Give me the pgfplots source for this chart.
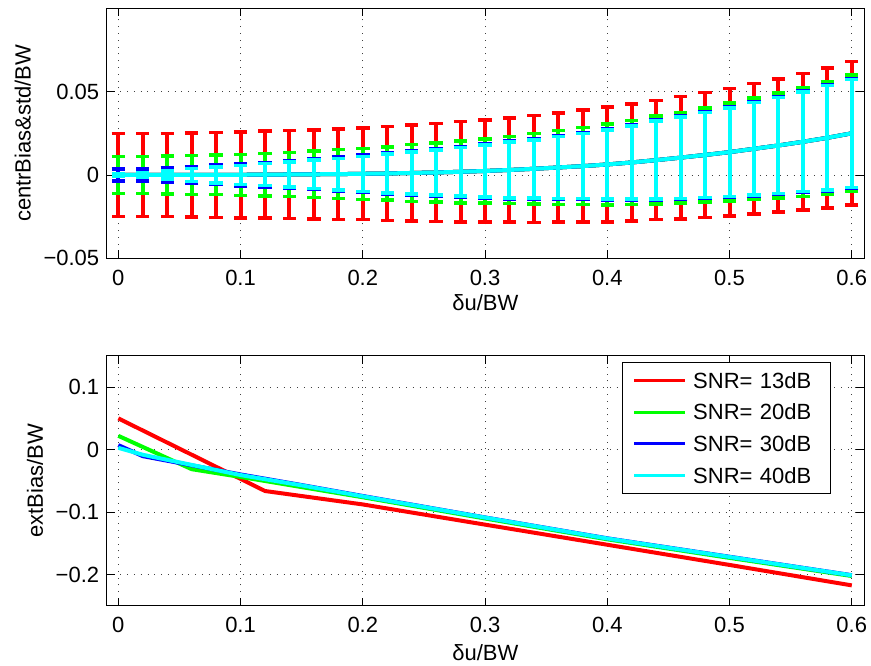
\documentclass[border=0pt]{standalone}
\usepackage{pgfplots}
\pgfplotsset{compat=1.18}
\usepackage{pgfplotstable}
\usepackage{fontspec}
\setmainfont{Liberation Sans}
\definecolor{mred}{rgb}{1,0,0}
\definecolor{mgreen}{rgb}{0,1,0}
\definecolor{mblue}{rgb}{0,0,1}
\definecolor{mcyan}{rgb}{0,1,1}

\pgfplotstableread{
x     c       r       g       b       cy
0.00  0.0000  0.0250  0.0112  0.0036  0.0010
0.02  0.0000  0.0250  0.0112  0.0037  0.0015
0.04  0.0000  0.0250  0.0113  0.0042  0.0025
0.06  0.0000  0.0253  0.0116  0.0050  0.0038
0.08  0.0001  0.0255  0.0119  0.0058  0.0048
0.10  0.0001  0.0258  0.0123  0.0066  0.0057
0.12  0.0002  0.0261  0.0128  0.0073  0.0066
0.14  0.0003  0.0265  0.0133  0.0080  0.0075
0.16  0.0004  0.0267  0.0140  0.0092  0.0085
0.18  0.0005  0.0272  0.0147  0.0102  0.0095
0.20  0.0007  0.0275  0.0153  0.0112  0.0105
0.22  0.0009  0.0282  0.0160  0.0122  0.0116
0.24  0.0012  0.0288  0.0170  0.0132  0.0126
0.26  0.0015  0.0295  0.0178  0.0141  0.0135
0.28  0.0019  0.0301  0.0186  0.0151  0.0145
0.30  0.0024  0.0306  0.0192  0.0163  0.0157
0.32  0.0030  0.0312  0.0202  0.0173  0.0167
0.34  0.0037  0.0321  0.0211  0.0180  0.0174
0.36  0.0045  0.0328  0.0223  0.0192  0.0186
0.38  0.0053  0.0336  0.0231  0.0201  0.0195
0.40  0.0063  0.0345  0.0243  0.0213  0.0207
0.42  0.0075  0.0352  0.0253  0.0226  0.0220
0.44  0.0089  0.0357  0.0264  0.0240  0.0234
0.46  0.0104  0.0367  0.0272  0.0250  0.0244
0.48  0.0120  0.0374  0.0282  0.0261  0.0255
0.50  0.0137  0.0383  0.0294  0.0271  0.0265
0.52  0.0157  0.0391  0.0305  0.0283  0.0277
0.54  0.0177  0.0400  0.0316  0.0295  0.0289
0.56  0.0199  0.0410  0.0327  0.0305  0.0299
0.58  0.0223  0.0420  0.0338  0.0320  0.0314
0.60  0.0250  0.0430  0.0350  0.0330  0.0324
}\topdata

\pgfplotsset{
  mlab/.style={
    scale only axis, width=757.3pt, height=250pt,
    xmin=-0.0095, xmax=0.61,
    tick align=inside, major tick length=8pt,
    xtick pos=both, ytick pos=both,
    grid=major,
    grid style={black!75, line width=0.8pt, dash pattern=on 0.8pt off 6pt},
    axis line style={black, line width=1pt},
    every tick/.style={black, line width=0.8pt},
    xtick={0,0.1,0.2,0.3,0.4,0.5,0.6},
    xticklabels={0,0.1,0.2,0.3,0.4,0.5,0.6},
    xticklabel style={yshift=-4pt},
    xlabel={δu/BW},
    clip=false,
  },
  ebar/.style={
    #1, line width=4pt,
    error bars/.cd, y dir=both, y explicit,
    error bar style={line width=4pt, #1},
    error mark=|,
    error mark options={line width=3.5pt, mark size=6.7pt, #1},
  },
}

\begin{document}
\fontsize{22}{26}\selectfont
\begin{tikzpicture}
\path[use as bounding box] (0,0) rectangle (871pt,666pt);

\begin{axis}[mlab,
  at={(106.7pt,407.7pt)}, anchor=south west,
  ymin=-0.05, ymax=0.1,
  ytick={-0.05,0,0.05}, yticklabels={−0.05,0,0.05},
  ylabel={centrBias\&std/BW},
  ylabel style={at={(axis description cs:-0.111,0.5)}, anchor=center},
  xlabel style={at={(axis description cs:0.5,-0.179)}, anchor=center},
]
\addplot[ebar=mred] table[x=x, y=c, y error=r]{\topdata};
\addplot[ebar=mgreen] table[x=x, y=c, y error=g]{\topdata};
\addplot[ebar=mblue] table[x=x, y=c, y error=b]{\topdata};
\addplot[ebar=mcyan] table[x=x, y=c, y error=cy]{\topdata};
\end{axis}

\begin{axis}[mlab,
  at={(106.7pt,60.3pt)}, anchor=south west,
  ymin=-0.25, ymax=0.15,
  ytick={-0.2,-0.1,0,0.1}, yticklabels={−0.2,−0.1,0,0.1},
  ylabel={extBias/BW},
  ylabel style={at={(axis description cs:-0.0947,0.5)}, anchor=center},
  xlabel style={at={(axis description cs:0.5,-0.189)}, anchor=center},
  legend style={at={(axis description cs:0.957,0.975)}, anchor=north east,
    draw=black, line width=1pt, fill=white,
    inner xsep=10pt, inner ysep=7.6pt, row sep=10.7pt, column sep=3.3pt,
    nodes={inner xsep=3pt, inner ysep=0pt, text height=18pt, text depth=3pt, text width=124.7pt, align=left}},
  legend cell align=left,
  legend image code/.code={\draw[#1, line width=3pt] (0pt,0pt) -- (51pt,0pt);},
]
\addplot[mred, line width=4pt] coordinates {
(0,0.0497) (0.12,-0.0665) (0.2,-0.088) (0.3,-0.1203) (0.4,-0.1525) (0.5,-0.1848) (0.6,-0.2175)};
\addlegendentry{SNR= 13dB}
\addplot[mgreen, line width=4pt] coordinates {
(0,0.0218) (0.06,-0.0316) (0.1,-0.044) (0.2,-0.0765) (0.3,-0.1105) (0.4,-0.1438) (0.5,-0.1735) (0.6,-0.2025)};
\addlegendentry{SNR= 20dB}
\addplot[mblue, line width=4pt] coordinates {
(0,0.0069) (0.02,-0.0107) (0.1,-0.040) (0.15,-0.057) (0.2,-0.0745) (0.3,-0.1088) (0.4,-0.1422) (0.5,-0.1717) (0.6,-0.2012)};
\addlegendentry{SNR= 30dB}
\addplot[mcyan, line width=4pt] coordinates {
(0,0.0026) (0.02,-0.0085) (0.1,-0.041) (0.15,-0.0575) (0.2,-0.075) (0.3,-0.109) (0.4,-0.1425) (0.5,-0.172) (0.6,-0.2014)};
\addlegendentry{SNR= 40dB}
\end{axis}
\end{tikzpicture}
\end{document}
